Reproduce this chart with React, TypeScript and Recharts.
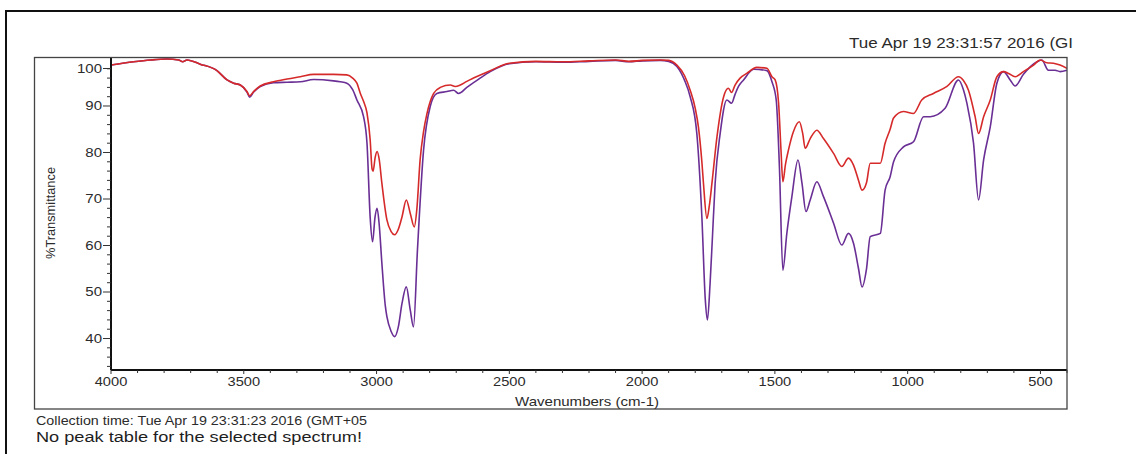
import React from 'react';
import { LineChart, Line, XAxis, YAxis } from 'recharts';

// ---- Spectrum data (wavenumber cm-1, %Transmittance) ----
const redWavenumbers = [
  4000, 3915, 3850, 3789, 3745, 3730, 3714, 3664, 3601, 3563, 3538, 3513, 3488, 3478, 3463, 3438, 3388, 3337,
  3287, 3237, 3162, 3112, 3090, 3074, 3061, 3049, 3036, 3024, 3017, 3013, 3005, 2998, 2990, 2980, 2961, 2945,
  2932, 2918, 2904, 2888, 2873, 2858, 2848, 2836, 2823, 2810, 2785, 2760, 2722, 2704, 2685, 2660, 2635, 2572,
  2500, 2400, 2300, 2200, 2100, 2050, 2000, 1932, 1900, 1869, 1840, 1819, 1800, 1788, 1775, 1769, 1756, 1747,
  1737, 1718, 1693, 1675, 1663, 1650, 1631, 1606, 1568, 1530, 1511, 1499, 1486, 1477, 1470, 1460, 1449, 1430,
  1408, 1395, 1386, 1367, 1342, 1317, 1279, 1248, 1223, 1204, 1185, 1172, 1155, 1141, 1103, 1085, 1066, 1053,
  1016, 978, 947, 903, 852, 809, 790, 771, 746, 733, 714, 689, 664, 639, 620, 595, 564, 526, 501, 476, 451, 426, 400,
];
const redValues = [
  98.8, 99.5, 99.9, 100.1, 99.9, 99.5, 99.9, 99.0, 97.6, 95.6, 94.9, 94.5, 93.1, 92.2, 93.1, 94.3, 95.2, 95.8,
  96.3, 96.8, 96.8, 96.7, 96.0, 94.9, 92.7, 91.0, 88.5, 82.7, 76.5, 76.0, 79.0, 80.2, 78.5, 73.4, 65.5, 63.0,
  62.3, 63.5, 66.2, 69.8, 66.9, 64.0, 68.0, 78.4, 84.5, 88.4, 92.7, 94.0, 94.5, 94.2, 94.5, 95.3, 96.0, 97.6,
  99.2, 99.6, 99.5, 99.7, 99.9, 99.6, 99.8, 99.9, 99.8, 98.8, 96.5, 93.4, 89.5, 85.5, 78.0, 73.4, 65.8, 68.5,
  73.4, 83.4, 92.0, 93.8, 92.9, 94.5, 96.0, 97.0, 98.3, 98.1, 96.3, 95.6, 90.6, 80.5, 73.7, 77.5, 80.5, 84.5,
  86.6, 84.0, 80.9, 83.0, 84.8, 83.0, 79.8, 77.0, 78.8, 77.3, 74.0, 71.9, 73.5, 77.7, 77.7, 82.0, 85.0, 87.4,
  88.8, 88.4, 91.3, 92.7, 94.2, 96.3, 95.5, 93.4, 87.7, 84.1, 87.7, 91.3, 96.3, 97.4, 97.0, 96.3, 97.4, 98.8, 99.9, 99.3, 99.2, 98.8, 98.1,
];

const purpleWavenumbers = [
  4000, 3915, 3850, 3789, 3745, 3730, 3714, 3664, 3601, 3563, 3538, 3513, 3488, 3478, 3463, 3438, 3388, 3337,
  3287, 3237, 3162, 3137, 3112, 3090, 3074, 3049, 3036, 3024, 3015, 3006, 2998, 2990, 2980, 2967, 2961, 2945,
  2932, 2918, 2904, 2888, 2873, 2861, 2846, 2823, 2798, 2773, 2735, 2710, 2691, 2660, 2610, 2572, 2500, 2400,
  2300, 2200, 2100, 2050, 2000, 1932, 1900, 1869, 1840, 1819, 1794, 1775, 1762, 1754, 1744, 1735, 1725, 1706,
  1681, 1663, 1650, 1637, 1618, 1580, 1530, 1511, 1495, 1483, 1470, 1455, 1436, 1413, 1398, 1383, 1367, 1342,
  1317, 1279, 1248, 1223, 1204, 1185, 1172, 1155, 1141, 1103, 1085, 1066, 1053, 1016, 978, 940, 915, 859, 809,
  790, 777, 752, 733, 714, 689, 664, 639, 614, 595, 564, 513, 495, 470, 445, 426, 400,
];
const purpleValues = [
  98.8, 99.5, 99.9, 100.1, 99.9, 99.5, 99.9, 99.0, 97.6, 95.6, 94.9, 94.5, 93.0, 91.9, 93.0, 94.2, 95.0, 95.1,
  95.2, 95.7, 95.4, 95.2, 94.9, 93.5, 91.3, 87.7, 82.0, 66.0, 60.8, 66.0, 68.0, 64.5, 56.2, 47.0, 44.7, 41.5,
  40.4, 42.5, 47.6, 51.1, 46.1, 42.5, 59.0, 80.5, 89.9, 92.7, 93.1, 93.4, 92.7, 94.0, 96.0, 97.4, 99.1, 99.5,
  99.4, 99.6, 99.8, 99.5, 99.7, 99.8, 99.6, 98.5, 95.5, 92.0, 84.1, 66.2, 48.3, 44.0, 51.9, 62.0, 73.4, 84.1,
  91.3, 90.6, 92.5, 94.2, 95.6, 97.9, 97.6, 95.2, 91.3, 77.0, 54.7, 62.6, 70.5, 78.4, 73.4, 67.3, 69.8, 73.7,
  70.5, 64.8, 60.1, 62.6, 60.5, 55.0, 51.1, 55.0, 61.9, 62.6, 71.9, 74.8, 78.0, 81.2, 82.3, 87.7, 87.7, 89.5, 95.6,
  93.5, 90.6, 82.0, 69.8, 78.4, 85.5, 94.9, 97.4, 95.6, 94.3, 96.8, 99.5, 99.9, 97.7, 97.7, 97.4, 97.7,
];

// ---- Axis ticks ----
const xTicks = [
  4000, 3900, 3800, 3700, 3600, 3500, 3400, 3300, 3200, 3100, 3000, 2900, 2800, 2700, 2600, 2500, 2400, 2300, 2200,
  2100, 2000, 1900, 1800, 1700, 1600, 1500, 1400, 1300, 1200, 1100, 1000, 900, 800, 700, 600, 500, 400,
];
const xTickLabels = [4000, 3500, 3000, 2500, 2000, 1500, 1000, 500];
const yTicks = [
  34, 36, 38, 40, 42, 44, 46, 48, 50, 52, 54, 56, 58, 60, 62, 64, 66, 68, 70, 72, 74, 76, 78, 80, 82, 84, 86, 88,
  90, 92, 94, 96, 98, 100,
];
const yTickLabels = [40, 50, 60, 70, 80, 90, 100];

const titleText = 'Tue Apr 19 23:31:57 2016 (GI';
const collectionText = 'Collection time: Tue Apr 19 23:31:23 2016 (GMT+05';
const noPeakText = 'No peak table for the selected spectrum!';
const xTitle = 'Wavenumbers (cm-1)';
const yTitle = '%Transmittance';

const redData = redWavenumbers.map((w, i) => ({ w, v: redValues[i] }));
const purpleData = purpleWavenumbers.map((w, i) => ({ w, v: purpleValues[i] }));

const FONT = '"Liberation Sans", Arial, Helvetica, sans-serif';
const TEXT = '#2b2b2b';

const XTick = (props: any) => {
  const { x, y, payload } = props;
  const v = payload.value;
  const major = xTickLabels.includes(v);
  return (
    <g>
      <line x1={x} x2={x} y1={y} y2={y + (major ? 4 : 3)} stroke="#333" strokeWidth={1} />
      {major && (
        <text
          transform={`translate(${x},${y + 16}) scale(1.22,1)`}
          textAnchor="middle"
          fontSize={12}
          fontFamily={FONT}
          fill={TEXT}
        >
          {v}
        </text>
      )}
    </g>
  );
};

const YTick = (props: any) => {
  const { x, y, payload } = props;
  const v = payload.value;
  const major = yTickLabels.includes(v);
  const yy = v === 100 ? y + 9 : y;
  return (
    <g>
      <line x1={x - (major ? 8 : 4)} x2={x} y1={yy} y2={yy} stroke="#333" strokeWidth={1} />
      {major && (
        <text
          transform={`translate(${x - 9},${yy + 4.3}) scale(1.25,1)`}
          textAnchor="end"
          fontSize={12}
          fontFamily={FONT}
          fill={TEXT}
        >
          {v}
        </text>
      )}
    </g>
  );
};

export default function App() {
  return (
    <div style={{ position: 'absolute', left: 0, top: 0, width: 1136, height: 454, background: '#fff', overflow: 'hidden' }}>
      <div style={{ position: 'absolute', left: 0, top: 0 }}>
        <LineChart width={1136} height={454} margin={{ top: 58, right: 69, bottom: 54, left: 51 }}>
          <XAxis
            type="number"
            dataKey="w"
            domain={[400, 4000]}
            reversed
            allowDataOverflow
            ticks={xTicks}
            interval={0}
            tick={<XTick />}
            tickLine={false}
            tickSize={0}
            tickMargin={0}
            height={30}
            axisLine={{ stroke: '#111', strokeWidth: 2 }}
          />
          <YAxis
            type="number"
            dataKey="v"
            domain={[33.23, 100.32]}
            allowDataOverflow
            ticks={yTicks}
            interval={0}
            tick={<YTick />}
            tickLine={false}
            tickSize={0}
            tickMargin={0}
            width={60}
            axisLine={{ stroke: '#111', strokeWidth: 2 }}
          />
          <Line
            data={purpleData}
            dataKey="v"
            type="monotone"
            stroke="#6a2f95"
            strokeWidth={1.6}
            dot={false}
            isAnimationActive={false}
          />
          <Line
            data={redData}
            dataKey="v"
            type="monotone"
            stroke="#d62a2a"
            strokeWidth={1.6}
            dot={false}
            isAnimationActive={false}
          />
        </LineChart>
      </div>
      <svg
        width={1136}
        height={454}
        style={{ position: 'absolute', left: 0, top: 0, pointerEvents: 'none' }}
      >
        <path d="M6,460 L6,11 L1140,11" fill="none" stroke="#111" strokeWidth={2} />
        <rect x={34.5} y={57.5} width={1032.5} height={351.5} fill="none" stroke="#444" strokeWidth={1.3} />
        <text x={849} y={47.5} fontSize={14} fontFamily={FONT} fill={TEXT} textLength={224} lengthAdjust="spacingAndGlyphs">
          {titleText}
        </text>
        <text
          x={50}
          y={217.5}
          transform="rotate(-90, 50, 213)"
          textAnchor="middle"
          fontSize={12.5}
          fontFamily={FONT}
          fill={TEXT}
          textLength={92}
          lengthAdjust="spacingAndGlyphs"
        >
          {yTitle}
        </text>
        <text x={587} y={406} textAnchor="middle" fontSize={13} fontFamily={FONT} fill={TEXT} textLength={144} lengthAdjust="spacingAndGlyphs">
          {xTitle}
        </text>
        <text x={36} y={424.5} fontSize={12} fontFamily={FONT} fill={TEXT} textLength={331} lengthAdjust="spacingAndGlyphs">
          {collectionText}
        </text>
        <text x={36} y={441.5} fontSize={15.5} fontFamily={FONT} fill="#1e1e1e" textLength={326} lengthAdjust="spacingAndGlyphs">
          {noPeakText}
        </text>
      </svg>
    </div>
  );
}
